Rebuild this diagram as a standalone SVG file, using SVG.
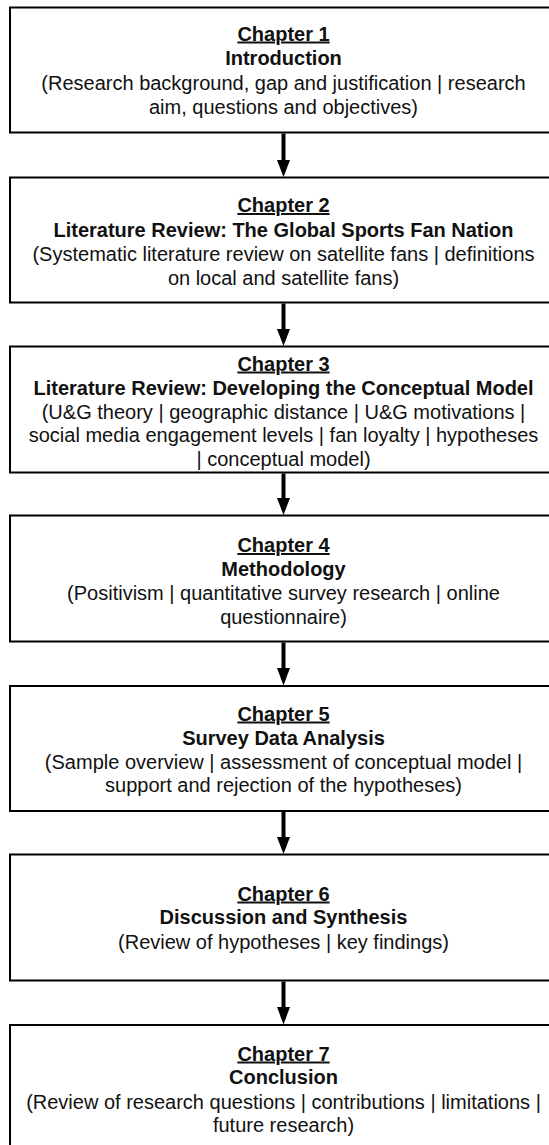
<svg xmlns="http://www.w3.org/2000/svg" width="549" height="1145" viewBox="0 0 549 1145">
  <style>
    .box { fill: #ffffff; stroke: #000000; stroke-width: 2; }
    .t { font-family: "Liberation Sans", Arial, sans-serif; font-size: 20px; fill: #111111; text-anchor: middle; }
    .ch { font-weight: bold; text-decoration: underline; }
    .ti { font-weight: bold; }
    .shaft { stroke: #000000; stroke-width: 4; fill: none; }
    .head { fill: #000000; }
  </style>
  <rect x="0" y="0" width="549" height="1145" fill="#ffffff"/>

  <!-- chapter boxes -->
  <g id="chapter1">
    <rect class="box" x="10" y="7.5" width="550" height="125"/>
    <text class="t ch" x="283.5" y="40.5">Chapter 1</text>
    <text class="t ti" x="283.5" y="65">Introduction</text>
    <text class="t" x="283.5" y="89.5">(Research background, gap and justification | research</text>
    <text class="t" x="283.5" y="114">aim, questions and objectives)</text>
  </g>

  <g id="chapter2">
    <rect class="box" x="10" y="177.5" width="550" height="125"/>
    <text class="t ch" x="283.5" y="212">Chapter 2</text>
    <text class="t ti" x="283.5" y="237">Literature Review: The Global Sports Fan Nation</text>
    <text class="t" x="283.5" y="260.5">(Systematic literature review on satellite fans | definitions</text>
    <text class="t" x="283.5" y="284.5">on local and satellite fans)</text>
  </g>

  <g id="chapter3">
    <rect class="box" x="10" y="346.5" width="550" height="126"/>
    <text class="t ch" x="283.5" y="370.5">Chapter 3</text>
    <text class="t ti" x="283.5" y="394.5">Literature Review: Developing the Conceptual Model</text>
    <text class="t" x="283.5" y="418.5">(U&amp;G theory | geographic distance | U&amp;G motivations |</text>
    <text class="t" x="283.5" y="442">social media engagement levels | fan loyalty | hypotheses</text>
    <text class="t" x="283.5" y="465.5">| conceptual model)</text>
  </g>

  <g id="chapter4">
    <rect class="box" x="10" y="515.5" width="550" height="126"/>
    <text class="t ch" x="283.5" y="552">Chapter 4</text>
    <text class="t ti" x="283.5" y="576">Methodology</text>
    <text class="t" x="283.5" y="600">(Positivism | quantitative survey research | online</text>
    <text class="t" x="283.5" y="624">questionnaire)</text>
  </g>

  <g id="chapter5">
    <rect class="box" x="10" y="686" width="550" height="125"/>
    <text class="t ch" x="283.5" y="720.5">Chapter 5</text>
    <text class="t ti" x="283.5" y="745">Survey Data Analysis</text>
    <text class="t" x="283.5" y="769">(Sample overview | assessment of conceptual model |</text>
    <text class="t" x="283.5" y="792">support and rejection of the hypotheses)</text>
  </g>

  <g id="chapter6">
    <rect class="box" x="10" y="854.5" width="550" height="126"/>
    <text class="t ch" x="283.5" y="900.5">Chapter 6</text>
    <text class="t ti" x="283.5" y="924">Discussion and Synthesis</text>
    <text class="t" x="283.5" y="948.5">(Review of hypotheses | key findings)</text>
  </g>

  <g id="chapter7">
    <rect class="box" x="10" y="1025" width="550" height="140"/>
    <text class="t ch" x="283.5" y="1060.5">Chapter 7</text>
    <text class="t ti" x="283.5" y="1084">Conclusion</text>
    <text class="t" x="283.5" y="1108.5">(Review of research questions | contributions | limitations |</text>
    <text class="t" x="283.5" y="1132">future research)</text>
  </g>

  <!-- connectors: downward arrows between consecutive chapters -->
  <g id="connectors">
    <line class="shaft" x1="283.5" y1="133.5" x2="283.5" y2="162"/>
    <polygon class="head" points="277,160 290,160 283.5,177"/>

    <line class="shaft" x1="283.5" y1="303.5" x2="283.5" y2="331"/>
    <polygon class="head" points="277,329 290,329 283.5,346"/>

    <line class="shaft" x1="283.5" y1="473.5" x2="283.5" y2="500"/>
    <polygon class="head" points="277,498 290,498 283.5,515"/>

    <line class="shaft" x1="283.5" y1="642.5" x2="283.5" y2="670"/>
    <polygon class="head" points="277,668 290,668 283.5,685.5"/>

    <line class="shaft" x1="283.5" y1="812" x2="283.5" y2="839"/>
    <polygon class="head" points="277,837 290,837 283.5,854"/>

    <line class="shaft" x1="283.5" y1="981.5" x2="283.5" y2="1009"/>
    <polygon class="head" points="277,1007 290,1007 283.5,1024.5"/>
  </g>
</svg>
